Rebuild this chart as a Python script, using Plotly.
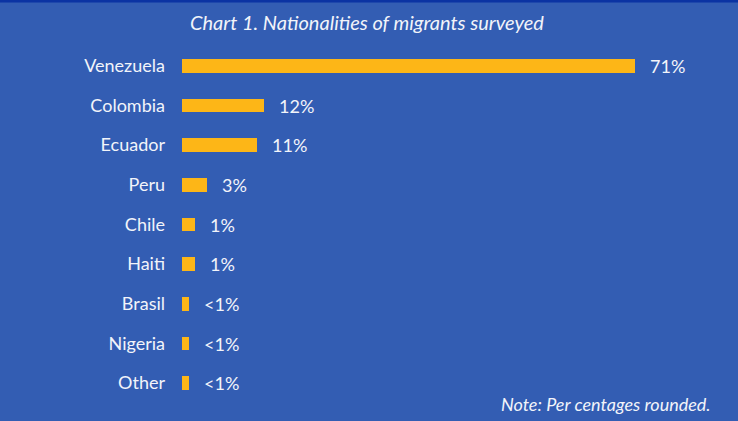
import plotly.graph_objects as go

# Survey results: nationality of migrants (share, %)
countries = ["Venezuela", "Colombia", "Ecuador", "Peru", "Chile", "Haiti", "Brasil", "Nigeria", "Other"]
shares = [71, 12, 11, 3, 1, 1, 0.1, 0.1, 0.1]
share_labels = ["71%", "12%", "11%", "3%", "1%", "1%", "<1%", "<1%", "<1%"]

BG = "#335DB3"
BAR = "#FDB617"
TEXT = "#F2F4FA"
FONT = "Lato"

# bars start one unit left of zero so the smallest shares remain visible
BAR_STUB = -1

W, H = 738, 421
M_L, M_R, M_T, M_B = 182, 53, 46, 18
plot_h = H - M_T - M_B
plot_w = W - M_L - M_R


def px_x(px):
    """Horizontal page pixel -> paper coordinate."""
    return (px - M_L) / plot_w


def px_y(px):
    """Vertical page pixel (from top) -> paper coordinate."""
    return (H - M_B - px) / plot_h


fig = go.Figure()
fig.add_trace(go.Bar(
    x=[v - BAR_STUB for v in shares],
    base=BAR_STUB,
    y=countries,
    orientation="h",
    marker=dict(color=BAR, line=dict(width=0)),
    width=0.35,
    hoverinfo="skip",
))

for c, v, lab in zip(countries, shares, share_labels):
    fig.add_annotation(
        x=v, y=c, xref="x", yref="y",
        text=lab, showarrow=False,
        xanchor="left", yanchor="middle", xshift=13,
        font=dict(family=FONT, size=18, color=TEXT),
    )

# title and footnote
fig.add_annotation(
    x=px_x(367), y=px_y(22), xref="paper", yref="paper",
    text="<i>Chart 1. Nationalities of migrants surveyed</i>",
    showarrow=False, xanchor="center", yanchor="middle",
    font=dict(family=FONT, size=20, color=TEXT),
)

fig.add_annotation(
    x=px_x(713), y=px_y(404), xref="paper", yref="paper",
    text="<i>Note: Per centages rounded.</i>",
    showarrow=False, xanchor="right", yanchor="middle",
    font=dict(family=FONT, size=18, color=TEXT),
)

# thin dark strip along the top edge
fig.add_shape(
    type="rect", xref="paper", yref="paper",
    x0=px_x(-5), x1=px_x(W + 5),
    y0=px_y(2.5), y1=px_y(-5),
    fillcolor="#0B33A3", line=dict(width=0), layer="above",
)

fig.update_layout(
    width=W, height=H,
    margin=dict(l=M_L, r=M_R, t=M_T, b=M_B, pad=0),
    paper_bgcolor=BG, plot_bgcolor=BG,
    showlegend=False,
    bargap=0,
    xaxis=dict(range=[-1, 79], visible=False, fixedrange=True),
    yaxis=dict(
        autorange=False, range=[8.5, -0.5],
        showgrid=False, zeroline=False, showline=False,
        ticks="", ticklabelstandoff=16,
        tickfont=dict(family=FONT, size=18, color=TEXT),
        fixedrange=True,
    ),
)

fig.write_html("out.html")
